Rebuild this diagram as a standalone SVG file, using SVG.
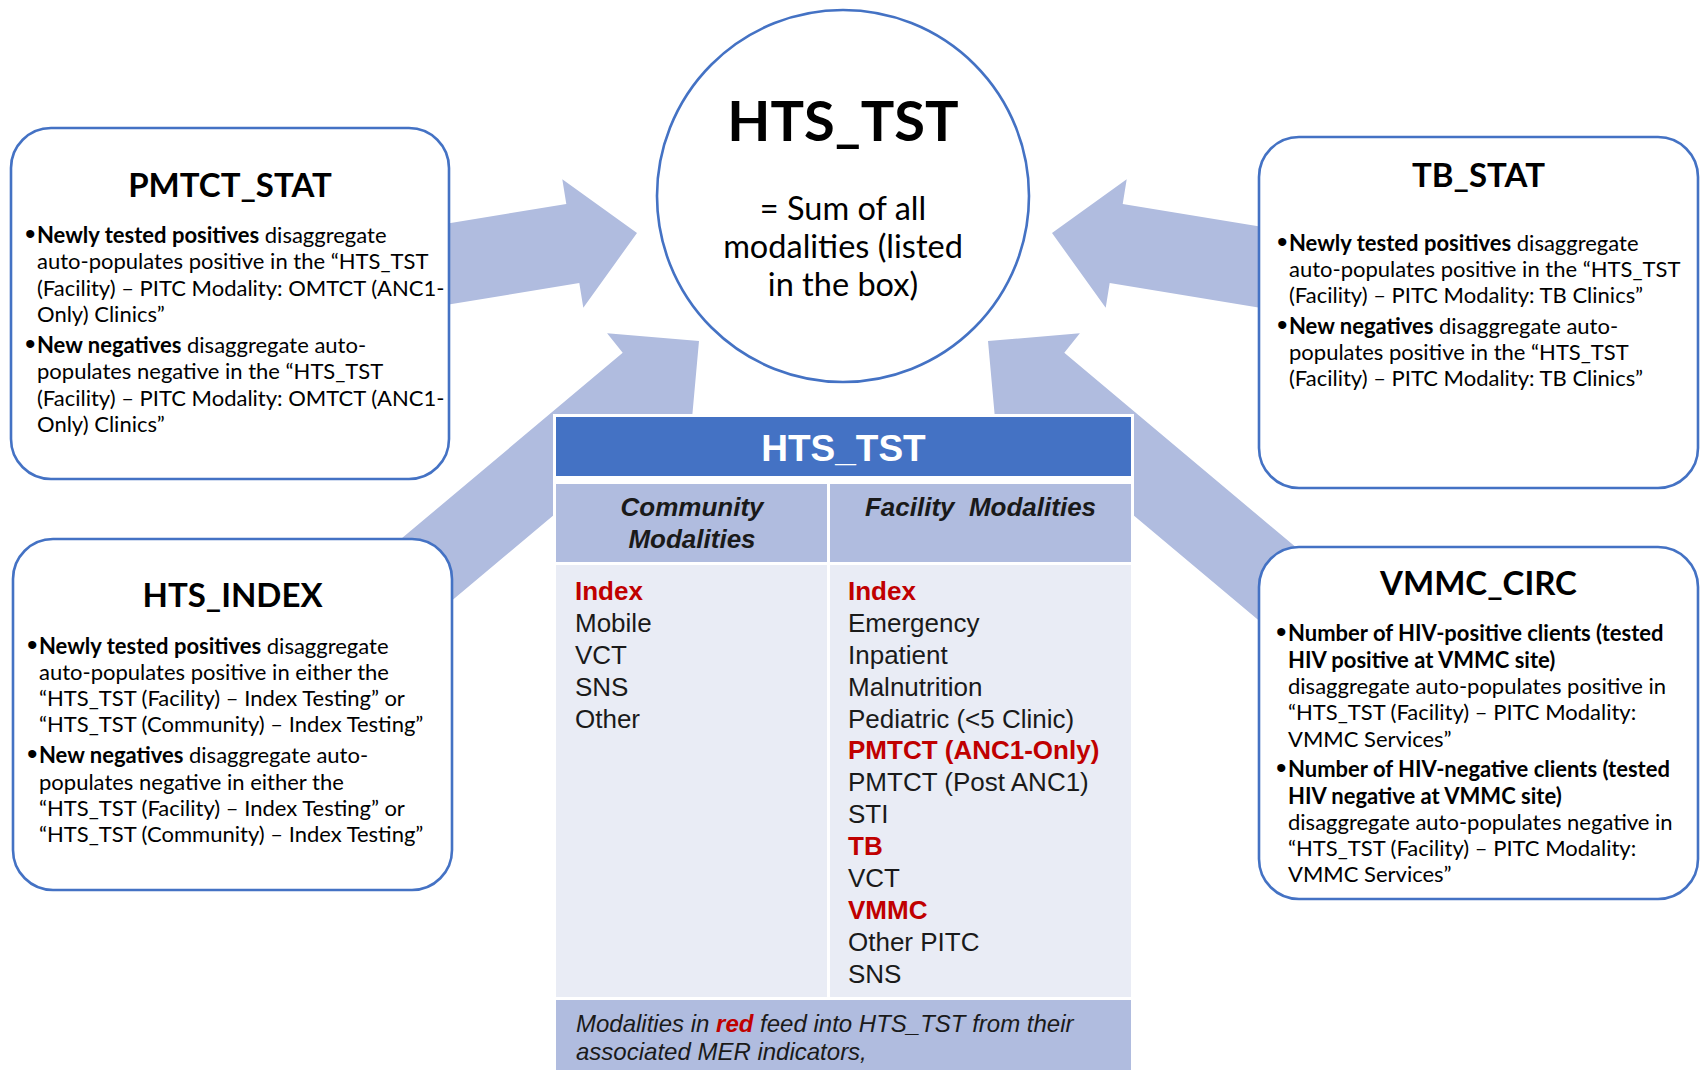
<svg xmlns="http://www.w3.org/2000/svg" width="1700" height="1070" viewBox="0 0 1700 1070">
<defs>
<style>
.arrow{fill:#B0BCDF;stroke:none}
.box{fill:#FFFFFF;stroke:#4472C4;stroke-width:2.6}
.title{font-family:Lato,"Open Sans",sans-serif;font-weight:bold;font-size:33px;fill:#000;text-anchor:middle}
.body{font-family:Lato,"Open Sans",sans-serif;font-size:22px;fill:#000}
.bul{font-family:"Liberation Sans",Arial,sans-serif;font-size:30px;fill:#000}
.b{font-weight:bold}
.ctitle{font-family:Lato,"Open Sans",sans-serif;font-weight:bold;font-size:56px;fill:#000;text-anchor:middle}
.csub{font-family:Lato,"Open Sans",sans-serif;font-size:32.5px;fill:#000;text-anchor:middle}
.th{font-family:"Liberation Sans",Arial,sans-serif;font-weight:bold;font-size:37px;fill:#FFFFFF;text-anchor:middle}
.sh{font-family:"Liberation Sans",Arial,sans-serif;font-weight:bold;font-style:italic;font-size:26px;fill:#1A1A1A;text-anchor:middle}
.td{font-family:"Liberation Sans",Arial,sans-serif;font-size:26px;fill:#1A1A1A}
.red{fill:#C00000;font-weight:bold}
.ft{font-family:"Liberation Sans",Arial,sans-serif;font-style:italic;font-size:24px;fill:#1A1A1A}
</style>
</defs>
<rect x="0" y="0" width="1700" height="1070" fill="#FFFFFF"/>

<g id="connectors">
<path class="arrow" d="M383.7,234 L566.3,204 L562.3,179.3 L637,233 L583.3,307.7 L579.3,283 L396.7,313 Z"/>
<path class="arrow" d="M1305.3,234 L1122.7,204 L1126.7,179.3 L1052,233 L1105.7,307.7 L1109.7,283 L1292.3,313 Z"/>
<path class="arrow" d="M366.9,567.6 L622.7,352.8 L607.1,333.3 L699,341 L690.7,432.9 L674.1,414 L418.3,628.8 Z"/>
<path class="arrow" d="M1320.1,567.6 L1064.3,352.8 L1079.9,333.3 L988,341 L996.3,432.9 L1012.9,414 L1268.7,628.8 Z"/>
</g>

<g id="pmtct_stat">
<rect class="box" x="11" y="128" width="438" height="351" rx="40" ry="40"/>
<text class="title" x="230" y="197">PMTCT_STAT</text>
<text class="bul" x="25" y="244">•</text>
<text class="body" x="37" y="243"><tspan class="b">Newly tested positives</tspan> disaggregate</text>
<text class="body" x="37" y="269.3">auto-populates positive in the “HTS_TST</text>
<text class="body" x="37" y="295.6">(Facility) – PITC Modality: OMTCT (ANC1-</text>
<text class="body" x="37" y="321.9">Only) Clinics”</text>
<text class="bul" x="25" y="354">•</text>
<text class="body" x="37" y="353"><tspan class="b">New negatives</tspan> disaggregate auto-</text>
<text class="body" x="37" y="379.3">populates negative in the “HTS_TST</text>
<text class="body" x="37" y="405.6">(Facility) – PITC Modality: OMTCT (ANC1-</text>
<text class="body" x="37" y="431.9">Only) Clinics”</text>
</g>

<g id="hts_index">
<rect class="box" x="13" y="539" width="439" height="351" rx="40" ry="40"/>
<text class="title" x="232.5" y="607">HTS_INDEX</text>
<text class="bul" x="27" y="655">•</text>
<text class="body" x="39" y="654"><tspan class="b">Newly tested positives</tspan> disaggregate</text>
<text class="body" x="39" y="680">auto-populates positive in either the</text>
<text class="body" x="39" y="706">“HTS_TST (Facility) – Index Testing” or</text>
<text class="body" x="39" y="732">“HTS_TST (Community) – Index Testing”</text>
<text class="bul" x="27" y="764">•</text>
<text class="body" x="39" y="763"><tspan class="b">New negatives</tspan> disaggregate auto-</text>
<text class="body" x="39" y="790">populates negative in either the</text>
<text class="body" x="39" y="816">“HTS_TST (Facility) – Index Testing” or</text>
<text class="body" x="39" y="842">“HTS_TST (Community) – Index Testing”</text>
</g>

<g id="tb_stat">
<rect class="box" x="1259" y="137" width="439" height="351" rx="40" ry="40"/>
<text class="title" x="1478.5" y="187">TB_STAT</text>
<text class="bul" x="1277" y="252">•</text>
<text class="body" x="1289" y="251"><tspan class="b">Newly tested positives</tspan> disaggregate</text>
<text class="body" x="1289" y="277">auto-populates positive in the “HTS_TST</text>
<text class="body" x="1289" y="303">(Facility) – PITC Modality: TB Clinics”</text>
<text class="bul" x="1277" y="335">•</text>
<text class="body" x="1289" y="334"><tspan class="b">New negatives</tspan> disaggregate auto-</text>
<text class="body" x="1289" y="360">populates positive in the “HTS_TST</text>
<text class="body" x="1289" y="386">(Facility) – PITC Modality: TB Clinics”</text>
</g>

<g id="vmmc_circ">
<rect class="box" x="1259" y="547" width="439" height="352" rx="40" ry="40"/>
<text class="title" x="1478.5" y="595">VMMC_CIRC</text>
<text class="bul" x="1276" y="642">•</text>
<text class="body b" x="1288" y="641">Number of HIV-positive clients (tested</text>
<text class="body b" x="1288" y="668">HIV positive at VMMC site)</text>
<text class="body" x="1288" y="694">disaggregate auto-populates positive in</text>
<text class="body" x="1288" y="720">“HTS_TST (Facility) – PITC Modality:</text>
<text class="body" x="1288" y="747">VMMC Services”</text>
<text class="bul" x="1276" y="778">•</text>
<text class="body b" x="1288" y="777">Number of HIV-negative clients (tested</text>
<text class="body b" x="1288" y="804">HIV negative at VMMC site)</text>
<text class="body" x="1288" y="830">disaggregate auto-populates negative in</text>
<text class="body" x="1288" y="856">“HTS_TST (Facility) – PITC Modality:</text>
<text class="body" x="1288" y="882">VMMC Services”</text>
</g>

<g id="hts_tst_circle">
<circle cx="843" cy="196" r="186" fill="#FFFFFF" stroke="#4472C4" stroke-width="2.6"/>
<text class="ctitle" x="843" y="141">HTS_TST</text>
<text class="csub" x="843" y="220">= Sum of all</text>
<text class="csub" x="843" y="258">modalities (listed</text>
<text class="csub" x="843" y="296">in the box)</text>
</g>

<g id="hts_tst_table">
<rect x="553" y="414" width="581" height="656" fill="#FFFFFF"/>
<rect x="556" y="417" width="575" height="59" fill="#4472C4"/>
<text class="th" x="843.5" y="461">HTS_TST</text>
<rect x="556" y="484" width="271" height="78" fill="#B0BCDF"/>
<rect x="830" y="484" width="301" height="78" fill="#B0BCDF"/>
<text class="sh" x="692" y="516">Community</text>
<text class="sh" x="692" y="548">Modalities</text>
<text class="sh" x="980.5" y="516" xml:space="preserve">Facility  Modalities</text>
<rect x="556" y="565" width="271" height="432" fill="#E9ECF5"/>
<rect x="830" y="565" width="301" height="432" fill="#E9ECF5"/>
<text class="td red" x="575" y="600">Index</text>
<text class="td" x="575" y="632">Mobile</text>
<text class="td" x="575" y="664">VCT</text>
<text class="td" x="575" y="696">SNS</text>
<text class="td" x="575" y="728">Other</text>
<text class="td red" x="848" y="600">Index</text>
<text class="td" x="848" y="632">Emergency</text>
<text class="td" x="848" y="664">Inpatient</text>
<text class="td" x="848" y="696">Malnutrition</text>
<text class="td" x="848" y="728">Pediatric (&lt;5 Clinic)</text>
<text class="td red" x="848" y="759">PMTCT (ANC1-Only)</text>
<text class="td" x="848" y="791">PMTCT (Post ANC1)</text>
<text class="td" x="848" y="823">STI</text>
<text class="td red" x="848" y="855">TB</text>
<text class="td" x="848" y="887">VCT</text>
<text class="td red" x="848" y="919">VMMC</text>
<text class="td" x="848" y="951">Other PITC</text>
<text class="td" x="848" y="983">SNS</text>
<rect x="556" y="1000" width="575" height="70" fill="#B0BCDF"/>
<text class="ft" x="576" y="1032">Modalities in <tspan fill="#C00000" font-weight="bold">red</tspan> feed into HTS_TST from their</text>
<text class="ft" x="576" y="1060">associated MER indicators,</text>
</g>
</svg>
